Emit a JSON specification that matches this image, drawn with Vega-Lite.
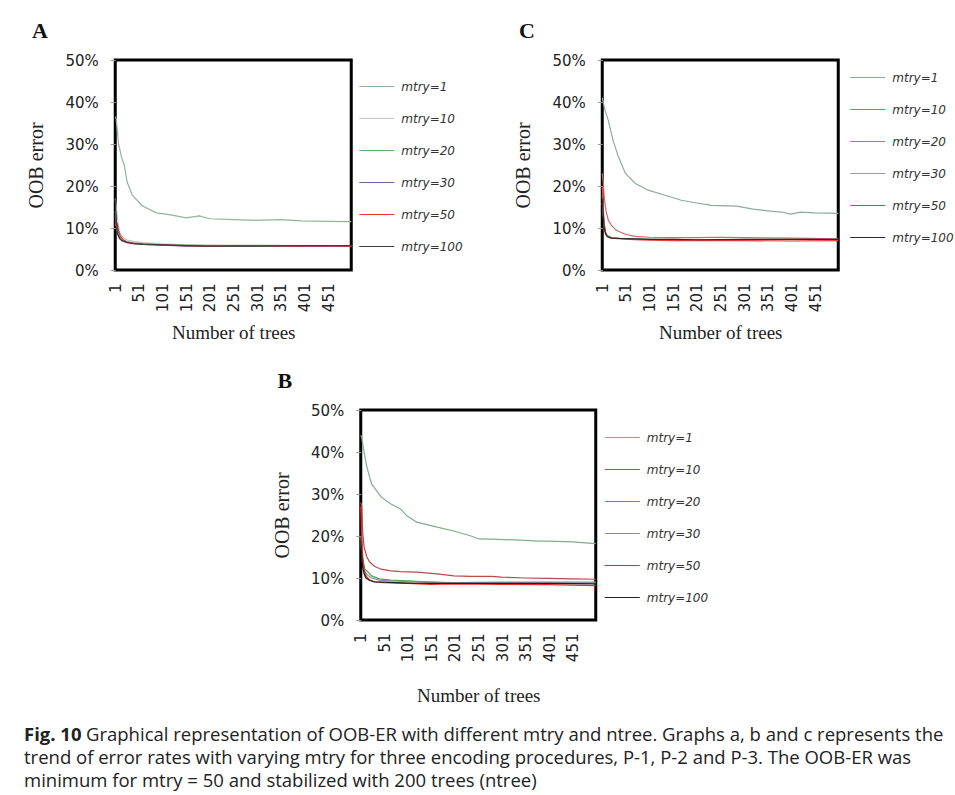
{
  "$schema": "https://vega.github.io/schema/vega-lite/v6.json",
  "background": "white",
  "padding": {"left": 24, "top": 18, "right": 0, "bottom": 0},
  "config": {
    "view": {"stroke": "black", "strokeWidth": 3},
    "axis": {"grid": false, "domain": false, "labelFont": "DejaVu Sans", "labelFontSize": 15, "labelColor": "#222", "titleFont": "Liberation Serif", "titleFontWeight": "normal", "titleColor": "#222", "tickColor": "#999"},
    "axisX": {"ticks": false, "labelPadding": 13, "titleFontSize": 19},
    "axisY": {"tickSize": 5, "labelPadding": 12, "titleFontSize": 20, "titlePadding": 18},
    "legend": {"orient": "none", "title": null, "symbolType": "stroke", "symbolSize": 1225, "symbolStrokeWidth": 1.6, "labelFont": "DejaVu Sans", "labelFontStyle": "italic", "labelFontSize": 12, "labelColor": "#333", "labelOffset": 6, "rowPadding": 7, "padding": 0},
    "title": {"anchor": "start", "frame": "bounds", "font": "Liberation Serif", "fontSize": 22, "fontWeight": "bold", "color": "#111", "dx": 5, "offset": 10},
    "line": {"strokeWidth": 1.2}
  },
  "datasets": {
    "A": [
      {"s":"mtry=1","t":1,"v":0.365},{"s":"mtry=1","t":3,"v":0.36},{"s":"mtry=1","t":8,"v":0.30},{"s":"mtry=1","t":14,"v":0.27},{"s":"mtry=1","t":20,"v":0.25},{"s":"mtry=1","t":26,"v":0.21},{"s":"mtry=1","t":37,"v":0.178},{"s":"mtry=1","t":58,"v":0.153},{"s":"mtry=1","t":88,"v":0.136},{"s":"mtry=1","t":115,"v":0.132},{"s":"mtry=1","t":151,"v":0.124},{"s":"mtry=1","t":179,"v":0.129},{"s":"mtry=1","t":200,"v":0.122},{"s":"mtry=1","t":253,"v":0.12},{"s":"mtry=1","t":300,"v":0.118},{"s":"mtry=1","t":350,"v":0.12},{"s":"mtry=1","t":395,"v":0.117},{"s":"mtry=1","t":450,"v":0.116},{"s":"mtry=1","t":500,"v":0.115},
      {"s":"mtry=10","t":1,"v":0.17},{"s":"mtry=10","t":3,"v":0.15},{"s":"mtry=10","t":6,"v":0.12},{"s":"mtry=10","t":10,"v":0.09},{"s":"mtry=10","t":15,"v":0.08},{"s":"mtry=10","t":25,"v":0.072},{"s":"mtry=10","t":40,"v":0.068},{"s":"mtry=10","t":60,"v":0.065},{"s":"mtry=10","t":100,"v":0.062},{"s":"mtry=10","t":150,"v":0.06},{"s":"mtry=10","t":200,"v":0.059},{"s":"mtry=10","t":300,"v":0.059},{"s":"mtry=10","t":400,"v":0.058},{"s":"mtry=10","t":500,"v":0.058},
      {"s":"mtry=20","t":1,"v":0.14},{"s":"mtry=20","t":3,"v":0.12},{"s":"mtry=20","t":6,"v":0.095},{"s":"mtry=20","t":10,"v":0.08},{"s":"mtry=20","t":15,"v":0.072},{"s":"mtry=20","t":25,"v":0.067},{"s":"mtry=20","t":40,"v":0.064},{"s":"mtry=20","t":60,"v":0.062},{"s":"mtry=20","t":100,"v":0.06},{"s":"mtry=20","t":150,"v":0.059},{"s":"mtry=20","t":200,"v":0.058},{"s":"mtry=20","t":300,"v":0.058},{"s":"mtry=20","t":400,"v":0.057},{"s":"mtry=20","t":500,"v":0.058},
      {"s":"mtry=30","t":1,"v":0.13},{"s":"mtry=30","t":3,"v":0.11},{"s":"mtry=30","t":6,"v":0.09},{"s":"mtry=30","t":10,"v":0.075},{"s":"mtry=30","t":15,"v":0.07},{"s":"mtry=30","t":25,"v":0.065},{"s":"mtry=30","t":40,"v":0.063},{"s":"mtry=30","t":60,"v":0.061},{"s":"mtry=30","t":100,"v":0.059},{"s":"mtry=30","t":150,"v":0.057},{"s":"mtry=30","t":200,"v":0.056},{"s":"mtry=30","t":300,"v":0.057},{"s":"mtry=30","t":400,"v":0.057},{"s":"mtry=30","t":500,"v":0.057},
      {"s":"mtry=50","t":1,"v":0.105},{"s":"mtry=50","t":3,"v":0.113},{"s":"mtry=50","t":5,"v":0.11},{"s":"mtry=50","t":8,"v":0.095},{"s":"mtry=50","t":12,"v":0.08},{"s":"mtry=50","t":18,"v":0.072},{"s":"mtry=50","t":25,"v":0.067},{"s":"mtry=50","t":40,"v":0.064},{"s":"mtry=50","t":60,"v":0.062},{"s":"mtry=50","t":100,"v":0.06},{"s":"mtry=50","t":150,"v":0.058},{"s":"mtry=50","t":200,"v":0.057},{"s":"mtry=50","t":250,"v":0.058},{"s":"mtry=50","t":300,"v":0.058},{"s":"mtry=50","t":400,"v":0.057},{"s":"mtry=50","t":450,"v":0.058},{"s":"mtry=50","t":500,"v":0.056},
      {"s":"mtry=100","t":1,"v":0.17},{"s":"mtry=100","t":3,"v":0.12},{"s":"mtry=100","t":6,"v":0.085},{"s":"mtry=100","t":10,"v":0.075},{"s":"mtry=100","t":15,"v":0.07},{"s":"mtry=100","t":25,"v":0.066},{"s":"mtry=100","t":40,"v":0.063},{"s":"mtry=100","t":60,"v":0.061},{"s":"mtry=100","t":100,"v":0.06},{"s":"mtry=100","t":150,"v":0.058},{"s":"mtry=100","t":200,"v":0.057},{"s":"mtry=100","t":300,"v":0.057},{"s":"mtry=100","t":400,"v":0.058},{"s":"mtry=100","t":500,"v":0.058}
    ],
    "C": [
      {"s":"mtry=1","t":1,"v":0.41},{"s":"mtry=1","t":3,"v":0.40},{"s":"mtry=1","t":7,"v":0.38},{"s":"mtry=1","t":14,"v":0.355},{"s":"mtry=1","t":24,"v":0.308},{"s":"mtry=1","t":35,"v":0.27},{"s":"mtry=1","t":50,"v":0.23},{"s":"mtry=1","t":71,"v":0.206},{"s":"mtry=1","t":98,"v":0.19},{"s":"mtry=1","t":134,"v":0.178},{"s":"mtry=1","t":168,"v":0.166},{"s":"mtry=1","t":204,"v":0.159},{"s":"mtry=1","t":232,"v":0.154},{"s":"mtry=1","t":285,"v":0.152},{"s":"mtry=1","t":320,"v":0.145},{"s":"mtry=1","t":357,"v":0.14},{"s":"mtry=1","t":380,"v":0.138},{"s":"mtry=1","t":399,"v":0.133},{"s":"mtry=1","t":420,"v":0.138},{"s":"mtry=1","t":450,"v":0.136},{"s":"mtry=1","t":500,"v":0.135},
      {"s":"mtry=10","t":1,"v":0.23},{"s":"mtry=10","t":3,"v":0.21},{"s":"mtry=10","t":5,"v":0.175},{"s":"mtry=10","t":9,"v":0.14},{"s":"mtry=10","t":14,"v":0.118},{"s":"mtry=10","t":20,"v":0.107},{"s":"mtry=10","t":30,"v":0.095},{"s":"mtry=10","t":40,"v":0.09},{"s":"mtry=10","t":50,"v":0.085},{"s":"mtry=10","t":70,"v":0.08},{"s":"mtry=10","t":100,"v":0.078},{"s":"mtry=10","t":150,"v":0.077},{"s":"mtry=10","t":200,"v":0.077},{"s":"mtry=10","t":250,"v":0.078},{"s":"mtry=10","t":300,"v":0.077},{"s":"mtry=10","t":400,"v":0.076},{"s":"mtry=10","t":500,"v":0.074},
      {"s":"mtry=20","t":1,"v":0.18},{"s":"mtry=20","t":3,"v":0.14},{"s":"mtry=20","t":5,"v":0.11},{"s":"mtry=20","t":8,"v":0.09},{"s":"mtry=20","t":12,"v":0.082},{"s":"mtry=20","t":20,"v":0.078},{"s":"mtry=20","t":40,"v":0.075},{"s":"mtry=20","t":70,"v":0.074},{"s":"mtry=20","t":100,"v":0.073},{"s":"mtry=20","t":150,"v":0.072},{"s":"mtry=20","t":200,"v":0.072},{"s":"mtry=20","t":300,"v":0.072},{"s":"mtry=20","t":400,"v":0.073},{"s":"mtry=20","t":500,"v":0.072},
      {"s":"mtry=30","t":1,"v":0.16},{"s":"mtry=30","t":3,"v":0.13},{"s":"mtry=30","t":5,"v":0.105},{"s":"mtry=30","t":8,"v":0.088},{"s":"mtry=30","t":12,"v":0.08},{"s":"mtry=30","t":20,"v":0.077},{"s":"mtry=30","t":40,"v":0.075},{"s":"mtry=30","t":70,"v":0.074},{"s":"mtry=30","t":100,"v":0.073},{"s":"mtry=30","t":150,"v":0.073},{"s":"mtry=30","t":200,"v":0.072},{"s":"mtry=30","t":300,"v":0.072},{"s":"mtry=30","t":400,"v":0.072},{"s":"mtry=30","t":500,"v":0.072},
      {"s":"mtry=50","t":1,"v":0.20},{"s":"mtry=50","t":3,"v":0.15},{"s":"mtry=50","t":5,"v":0.11},{"s":"mtry=50","t":8,"v":0.09},{"s":"mtry=50","t":12,"v":0.08},{"s":"mtry=50","t":20,"v":0.076},{"s":"mtry=50","t":40,"v":0.074},{"s":"mtry=50","t":70,"v":0.072},{"s":"mtry=50","t":100,"v":0.071},{"s":"mtry=50","t":150,"v":0.07},{"s":"mtry=50","t":200,"v":0.07},{"s":"mtry=50","t":300,"v":0.07},{"s":"mtry=50","t":400,"v":0.069},{"s":"mtry=50","t":500,"v":0.07},
      {"s":"mtry=100","t":1,"v":0.17},{"s":"mtry=100","t":3,"v":0.13},{"s":"mtry=100","t":5,"v":0.10},{"s":"mtry=100","t":8,"v":0.085},{"s":"mtry=100","t":12,"v":0.079},{"s":"mtry=100","t":20,"v":0.076},{"s":"mtry=100","t":40,"v":0.075},{"s":"mtry=100","t":70,"v":0.074},{"s":"mtry=100","t":100,"v":0.073},{"s":"mtry=100","t":150,"v":0.073},{"s":"mtry=100","t":200,"v":0.072},{"s":"mtry=100","t":300,"v":0.073},{"s":"mtry=100","t":400,"v":0.073},{"s":"mtry=100","t":500,"v":0.073}
    ],
    "B": [
      {"s":"mtry=1","t":1,"v":0.44},{"s":"mtry=1","t":3,"v":0.435},{"s":"mtry=1","t":8,"v":0.40},{"s":"mtry=1","t":14,"v":0.364},{"s":"mtry=1","t":24,"v":0.324},{"s":"mtry=1","t":44,"v":0.293},{"s":"mtry=1","t":65,"v":0.276},{"s":"mtry=1","t":86,"v":0.264},{"s":"mtry=1","t":99,"v":0.248},{"s":"mtry=1","t":120,"v":0.233},{"s":"mtry=1","t":163,"v":0.221},{"s":"mtry=1","t":199,"v":0.212},{"s":"mtry=1","t":235,"v":0.20},{"s":"mtry=1","t":252,"v":0.193},{"s":"mtry=1","t":295,"v":0.192},{"s":"mtry=1","t":340,"v":0.19},{"s":"mtry=1","t":380,"v":0.188},{"s":"mtry=1","t":401,"v":0.188},{"s":"mtry=1","t":450,"v":0.186},{"s":"mtry=1","t":500,"v":0.182},
      {"s":"mtry=10","t":1,"v":0.28},{"s":"mtry=10","t":3,"v":0.27},{"s":"mtry=10","t":5,"v":0.21},{"s":"mtry=10","t":8,"v":0.174},{"s":"mtry=10","t":14,"v":0.15},{"s":"mtry=10","t":20,"v":0.138},{"s":"mtry=10","t":30,"v":0.128},{"s":"mtry=10","t":44,"v":0.121},{"s":"mtry=10","t":65,"v":0.117},{"s":"mtry=10","t":86,"v":0.115},{"s":"mtry=10","t":120,"v":0.114},{"s":"mtry=10","t":163,"v":0.11},{"s":"mtry=10","t":199,"v":0.105},{"s":"mtry=10","t":235,"v":0.104},{"s":"mtry=10","t":280,"v":0.104},{"s":"mtry=10","t":300,"v":0.102},{"s":"mtry=10","t":350,"v":0.10},{"s":"mtry=10","t":400,"v":0.099},{"s":"mtry=10","t":450,"v":0.098},{"s":"mtry=10","t":500,"v":0.097},
      {"s":"mtry=20","t":1,"v":0.20},{"s":"mtry=20","t":3,"v":0.18},{"s":"mtry=20","t":6,"v":0.14},{"s":"mtry=20","t":10,"v":0.12},{"s":"mtry=20","t":14,"v":0.117},{"s":"mtry=20","t":24,"v":0.105},{"s":"mtry=20","t":40,"v":0.098},{"s":"mtry=20","t":65,"v":0.095},{"s":"mtry=20","t":99,"v":0.093},{"s":"mtry=20","t":150,"v":0.09},{"s":"mtry=20","t":200,"v":0.088},{"s":"mtry=20","t":300,"v":0.088},{"s":"mtry=20","t":400,"v":0.088},{"s":"mtry=20","t":500,"v":0.088},
      {"s":"mtry=30","t":1,"v":0.19},{"s":"mtry=30","t":3,"v":0.16},{"s":"mtry=30","t":6,"v":0.13},{"s":"mtry=30","t":10,"v":0.115},{"s":"mtry=30","t":14,"v":0.108},{"s":"mtry=30","t":24,"v":0.10},{"s":"mtry=30","t":40,"v":0.095},{"s":"mtry=30","t":65,"v":0.093},{"s":"mtry=30","t":99,"v":0.092},{"s":"mtry=30","t":150,"v":0.09},{"s":"mtry=30","t":200,"v":0.089},{"s":"mtry=30","t":300,"v":0.09},{"s":"mtry=30","t":400,"v":0.09},{"s":"mtry=30","t":500,"v":0.09},
      {"s":"mtry=50","t":1,"v":0.27},{"s":"mtry=50","t":3,"v":0.20},{"s":"mtry=50","t":5,"v":0.15},{"s":"mtry=50","t":8,"v":0.12},{"s":"mtry=50","t":12,"v":0.105},{"s":"mtry=50","t":20,"v":0.095},{"s":"mtry=50","t":30,"v":0.091},{"s":"mtry=50","t":50,"v":0.089},{"s":"mtry=50","t":100,"v":0.087},{"s":"mtry=50","t":150,"v":0.085},{"s":"mtry=50","t":200,"v":0.086},{"s":"mtry=50","t":300,"v":0.085},{"s":"mtry=50","t":400,"v":0.084},{"s":"mtry=50","t":500,"v":0.082},
      {"s":"mtry=100","t":1,"v":0.19},{"s":"mtry=100","t":3,"v":0.15},{"s":"mtry=100","t":5,"v":0.125},{"s":"mtry=100","t":8,"v":0.11},{"s":"mtry=100","t":12,"v":0.10},{"s":"mtry=100","t":20,"v":0.094},{"s":"mtry=100","t":30,"v":0.091},{"s":"mtry=100","t":50,"v":0.09},{"s":"mtry=100","t":100,"v":0.088},{"s":"mtry=100","t":150,"v":0.087},{"s":"mtry=100","t":200,"v":0.087},{"s":"mtry=100","t":300,"v":0.087},{"s":"mtry=100","t":400,"v":0.087},{"s":"mtry=100","t":500,"v":0.086}
    ]
  },
  "resolve": {"scale": {"color": "independent"}, "legend": {"color": "independent"}},
  "spacing": 15,
  "vconcat": [
    {
      "center": true,
      "spacing": 23,
      "resolve": {"scale": {"color": "independent"}, "legend": {"color": "independent"}},
      "vconcat": [
        {
          "spacing": 47,
          "resolve": {"scale": {"color": "independent"}, "legend": {"color": "independent"}},
          "hconcat": [
            {
              "width": 236, "height": 210,
              "title": {"text": "A"},
              "data": {"name": "A"},
              "mark": {"type": "line"},
              "encoding": {
                "x": {"field": "t", "type": "quantitative", "scale": {"domain": [1, 500], "nice": false}, "axis": {"values": [1,51,101,151,201,251,301,351,401,451], "labelAngle": -90, "title": "Number of trees", "titlePadding": 12}},
                "y": {"field": "v", "type": "quantitative", "scale": {"domain": [0, 0.5], "nice": false}, "axis": {"values": [0,0.1,0.2,0.3,0.4,0.5], "format": ".0%", "title": "OOB error"}},
                "color": {"field": "s", "type": "nominal", "scale": {"domain": ["mtry=1","mtry=10","mtry=20","mtry=30","mtry=50","mtry=100"], "range": ["#93b597","#c4c4c4","#5caf63","#7b5aa6","#e8353a","#3d3d3d"]}, "legend": {"legendX": 243, "legendY": 8}}
              }
            },
            {
              "width": 236, "height": 210,
              "title": {"text": "C"},
              "data": {"name": "C"},
              "mark": {"type": "line"},
              "encoding": {
                "x": {"field": "t", "type": "quantitative", "scale": {"domain": [1, 500], "nice": false}, "axis": {"values": [1,51,101,151,201,251,301,351,401,451], "labelAngle": -90, "title": "Number of trees", "titlePadding": 12}},
                "y": {"field": "v", "type": "quantitative", "scale": {"domain": [0, 0.5], "nice": false}, "axis": {"values": [0,0.1,0.2,0.3,0.4,0.5], "format": ".0%", "title": "OOB error"}},
                "color": {"field": "s", "type": "nominal", "scale": {"domain": ["mtry=1","mtry=10","mtry=20","mtry=30","mtry=50","mtry=100"], "range": ["#8eab9a","#d0666a","#4db35a","#9a9a9a","#ef3a3a","#2a2a2a"]}, "legend": {"legendX": 247, "legendY": -1}}
              }
            }
          ]
        },
        {
          "width": 235, "height": 210,
          "title": {"text": "B"},
          "data": {"name": "B"},
          "mark": {"type": "line"},
          "encoding": {
            "x": {"field": "t", "type": "quantitative", "scale": {"domain": [1, 500], "nice": false}, "axis": {"values": [1,51,101,151,201,251,301,351,401,451], "labelAngle": -90, "title": "Number of trees", "titlePadding": 25}},
            "y": {"field": "v", "type": "quantitative", "scale": {"domain": [0, 0.5], "nice": false}, "axis": {"values": [0,0.1,0.2,0.3,0.4,0.5], "format": ".0%", "title": "OOB error"}},
            "color": {"field": "s", "type": "nominal", "scale": {"domain": ["mtry=1","mtry=10","mtry=20","mtry=30","mtry=50","mtry=100"], "range": ["#80ad8a","#b24d4f","#43a653","#8c88aa","#f22525","#1f1f1f"]}, "legend": {"legendX": 243, "legendY": 9}}
          }
        }
      ]
    },
    {
      "width": 830, "height": 70,
      "view": {"stroke": null},
      "data": {"values": [
        {"line": 1, "part": "head", "text": "Fig. 10"},
        {"line": 1, "part": "l1", "text": "Graphical representation of OOB-ER with different mtry and ntree. Graphs a, b and c represents the"},
        {"line": 2, "part": "body", "text": "trend of error rates with varying mtry for three encoding procedures, P-1, P-2 and P-3. The OOB-ER was"},
        {"line": 3, "part": "body", "text": "minimum for mtry = 50 and stabilized with 200 trees (ntree)"}
      ]},
      "encoding": {
        "y": {"field": "line", "type": "ordinal", "scale": {"type": "point", "padding": 0.5}, "axis": null},
        "x": {"value": 0},
        "text": {"field": "text"}
      },
      "layer": [
        {"transform": [{"filter": "datum.part == 'head'"}], "mark": {"type": "text", "align": "left", "baseline": "middle", "font": "Open Sans", "fontSize": 18.5, "fontWeight": "bold", "color": "#222", "dx": -91}},
        {"transform": [{"filter": "datum.part == 'l1'"}], "mark": {"type": "text", "align": "left", "baseline": "middle", "font": "Open Sans", "fontSize": 18.5, "color": "#222", "dx": -29}},
        {"transform": [{"filter": "datum.part == 'body'"}], "mark": {"type": "text", "align": "left", "baseline": "middle", "font": "Open Sans", "fontSize": 18.5, "color": "#222", "dx": -91}}
      ]
    }
  ]
}
